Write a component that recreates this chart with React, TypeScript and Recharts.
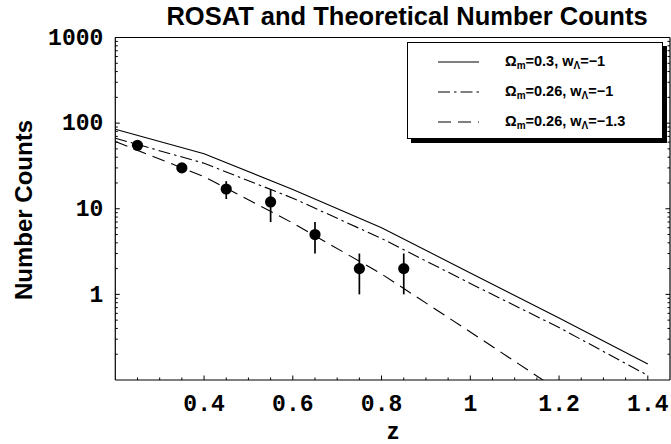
import React from 'react';
import { ComposedChart, Line, Scatter, ErrorBar, XAxis, YAxis, Legend } from 'recharts';

// ---- data ----
const modelZ = [0.2, 0.4, 0.6, 0.8, 1.0, 1.2, 1.4];
const solidCounts = [85, 44, 16.8, 6.0, 1.78, 0.53, 0.154];
const dashDotCounts = [66.7, 34, 13.3, 4.5, 1.34, 0.41, 0.113];
const dashedCounts = [61, 23.7, 6.8, 1.73, 0.364, 0.075];

const obsZ = [0.25, 0.35, 0.45, 0.55, 0.65, 0.75, 0.85];
const obsCounts = [55, 30, 17, 12, 5, 2, 2];
const obsErrors = [6, 3, 4, 5, 2, 1, 1];

const xMajor = [0.4, 0.6, 0.8, 1, 1.2, 1.4];
const xMajorLabels = ['0.4', '0.6', '0.8', '1', '1.2', '1.4'];
const xMinor = [0.25, 0.3, 0.35, 0.45, 0.5, 0.55, 0.65, 0.7, 0.75, 0.85, 0.9, 0.95, 1.05, 1.1, 1.15, 1.25, 1.3, 1.35];

const yMajor = [1, 10, 100, 1000];
const yMajorLabels = ['1', '10', '100', '1000'];
const yMinor = [0.2, 0.3, 0.4, 0.5, 0.6, 0.7, 0.8, 0.9, 2, 3, 4, 5, 6, 7, 8, 9, 20, 30, 40, 50, 60, 70, 80, 90, 200, 300, 400, 500, 600, 700, 800, 900];

const legendOmega = ['0.3', '0.26', '0.26'];
const legendW = ['\u22121', '\u22121', '\u22121.3'];
const dashes = ['', '12 4 2.5 4', '13 7'];

const solidData = modelZ.map((z, i) => ({ z, n: solidCounts[i] }));
const dashDotData = modelZ.map((z, i) => ({ z, n: dashDotCounts[i] }));
const dashedData = dashedCounts.map((n, i) => ({ z: modelZ[i], n }));
const obsData = obsZ.map((z, i) => ({ z, n: obsCounts[i], err: [obsErrors[i], obsErrors[i]] }));

const xTicks = [...xMinor, ...xMajor].sort((a, b) => a - b);
const yTicks = [...yMinor, ...yMajor].sort((a, b) => a - b);

const MONO = 'Liberation Mono, Courier New, monospace';
const SANS = 'Liberation Sans, Arial, Helvetica, sans-serif';
const MAJ = 4.5;
const MIN = 2.5;

const BottomTick = (p: any) => {
  const v = p.payload.value;
  const i = xMajor.indexOf(v);
  const major = i >= 0;
  return (
    <g>
      <line x1={p.x} y1={p.y} x2={p.x} y2={p.y - (major ? MAJ : MIN)} stroke="#000" strokeWidth={1} />
      {major && (
        <text x={p.x} y={p.y + 30.5} textAnchor="middle" fontFamily={MONO} fontWeight="bold" fontSize={23} fill="#000">
          {xMajorLabels[i]}
        </text>
      )}
    </g>
  );
};

const TopTick = (p: any) => {
  const major = xMajor.indexOf(p.payload.value) >= 0;
  return <line x1={p.x} y1={p.y} x2={p.x} y2={p.y + (major ? MAJ : MIN)} stroke="#000" strokeWidth={1} />;
};

const LeftTick = (p: any) => {
  const v = p.payload.value;
  const i = yMajor.indexOf(v);
  const major = i >= 0;
  return (
    <g>
      <line x1={p.x} y1={p.y} x2={p.x + (major ? MAJ : MIN)} y2={p.y} stroke="#000" strokeWidth={1} />
      {major && (
        <text x={p.x - 12} y={p.y + 7.3} textAnchor="end" fontFamily={MONO} fontWeight="bold" fontSize={23} fill="#000">
          {yMajorLabels[i]}
        </text>
      )}
    </g>
  );
};

const RightTick = (p: any) => {
  const major = yMajor.indexOf(p.payload.value) >= 0;
  return <line x1={p.x} y1={p.y} x2={p.x - (major ? MAJ : MIN)} y2={p.y} stroke="#000" strokeWidth={1} />;
};

const LegendBox = () => (
  <div
    style={{
      position: 'relative',
      width: 256,
      height: 97,
      boxSizing: 'border-box',
      border: '1px solid #000',
      background: '#fff',
      boxShadow: '4px 4px 0 #000',
      fontFamily: SANS,
      fontWeight: 'bold',
      fontSize: 14.5,
      color: '#000',
    }}
  >
    {legendOmega.map((om, i) => (
      <div key={i} style={{ position: 'absolute', left: 0, top: 18.5 + i * 30 - 10, height: 20, width: 254 }}>
        <svg width={50} height={20} style={{ position: 'absolute', left: 29, top: 0 }}>
          <line x1={1} y1={10} x2={42} y2={10} stroke="#000" strokeWidth={1.1} strokeDasharray={dashes[i] || undefined} />
        </svg>
        <span style={{ position: 'absolute', left: 97, top: 1, whiteSpace: 'nowrap', lineHeight: '16px' }}>
          {'\u03A9'}
          <span style={{ fontSize: 10, position: 'relative', top: 3 }}>m</span>
          {'=' + om + ', w'}
          <span style={{ fontSize: 10, position: 'relative', top: 3 }}>{'\u039B'}</span>
          {'=' + legendW[i]}
        </span>
      </div>
    ))}
  </div>
);

export default function App() {
  return (
    <div style={{ position: 'absolute', left: 0, top: 0 }}>
      <ComposedChart width={671} height={444} margin={{ top: 27.5, right: 0, bottom: 34, left: 85.3 }}>
        <XAxis
          xAxisId="b"
          dataKey="z"
          type="number"
          domain={[0.2, 1.45]}
          allowDataOverflow
          ticks={xTicks}
          interval={0}
          tickSize={0}
          tickMargin={0}
          tickLine={false}
          height={30}
          axisLine={{ stroke: '#000', strokeWidth: 1.2 }}
          tick={(p: any) => <BottomTick {...p} />}
        />
        <XAxis
          xAxisId="t"
          orientation="top"
          type="number"
          domain={[0.2, 1.45]}
          allowDataOverflow
          ticks={xTicks}
          interval={0}
          tickSize={0}
          tickMargin={0}
          tickLine={false}
          height={10}
          axisLine={{ stroke: '#000', strokeWidth: 1.2 }}
          tick={(p: any) => <TopTick {...p} />}
        />
        <YAxis
          yAxisId="l"
          scale="log"
          type="number"
          domain={[0.1, 1000]}
          allowDataOverflow
          ticks={yTicks}
          interval={0}
          tickSize={0}
          tickMargin={0}
          tickLine={false}
          width={30}
          axisLine={{ stroke: '#000', strokeWidth: 1.2 }}
          tick={(p: any) => <LeftTick {...p} />}
        />
        <YAxis
          yAxisId="r"
          orientation="right"
          scale="log"
          type="number"
          domain={[0.1, 1000]}
          allowDataOverflow
          ticks={yTicks}
          interval={0}
          tickSize={0}
          tickMargin={0}
          tickLine={false}
          width={1}
          axisLine={{ stroke: '#000', strokeWidth: 1.2 }}
          tick={(p: any) => <RightTick {...p} />}
        />
        <Line data={solidData} dataKey="n" xAxisId="b" yAxisId="l" type="linear" stroke="#000" strokeWidth={1.1} dot={false} isAnimationActive={false} />
        <Line data={dashDotData} dataKey="n" xAxisId="b" yAxisId="l" type="linear" stroke="#000" strokeWidth={1.1} strokeDasharray={dashes[1]} dot={false} isAnimationActive={false} />
        <Line data={dashedData} dataKey="n" xAxisId="b" yAxisId="l" type="linear" stroke="#000" strokeWidth={1.1} strokeDasharray={dashes[2]} dot={false} isAnimationActive={false} />
        <Scatter
          data={obsData}
          dataKey="n"
          xAxisId="b"
          yAxisId="l"
          isAnimationActive={false}
          shape={(p: any) => <circle cx={p.cx} cy={p.cy} r={5.6} fill="#000" />}
        >
          <ErrorBar dataKey="err" direction="y" width={0} stroke="#000" strokeWidth={1.7} isAnimationActive={false} />
        </Scatter>
        <Legend
          verticalAlign="middle"
          align="center"
          layout="horizontal"
          wrapperStyle={{ left: 407, top: 42, width: 256, height: 97 }}
          content={() => <LegendBox />}
        />
        <text x={407} y={25} textAnchor="middle" fontFamily={SANS} fontWeight="bold" fontSize={25.5} fill="#000">
          ROSAT and Theoretical Number Counts
        </text>
        <text x={393} y={439} textAnchor="middle" fontFamily={SANS} fontWeight="bold" fontSize={24} fill="#000">
          z
        </text>
        <text
          x={31.5}
          y={210}
          transform="rotate(-90 31.5 210)"
          textAnchor="middle"
          fontFamily={SANS}
          fontWeight="bold"
          fontSize={24}
          fill="#000"
        >
          Number Counts
        </text>
      </ComposedChart>
    </div>
  );
}
